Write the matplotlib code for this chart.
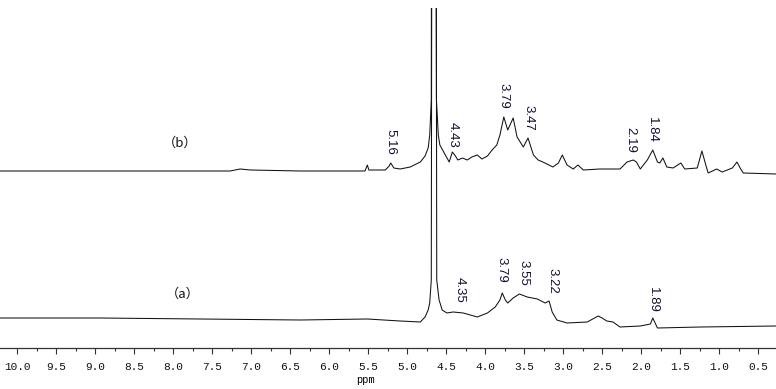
import matplotlib
matplotlib.use("Agg")
import matplotlib.pyplot as plt
import numpy as np
from matplotlib.ticker import MultipleLocator, FormatStrFormatter

# ---- data (ppm, intensity in plot units) ----
ppm_b = [10.22, 8.68, 7.27, 7.14, 7.01, 6.37, 5.60, 5.54, 5.51, 5.49, 5.28, 5.23, 5.21, 5.17,
         5.09, 4.96, 4.83, 4.77, 4.73, 4.71, 4.69, 4.685, 4.635, 4.624, 4.60, 4.58, 4.51, 4.46,
         4.42, 4.38, 4.35, 4.29, 4.23, 4.17, 4.10, 4.04, 3.97, 3.91, 3.85, 3.81, 3.76, 3.71,
         3.64, 3.59, 3.55, 3.51, 3.45, 3.38, 3.32, 3.26, 3.13, 3.06, 3.01, 2.95, 2.87, 2.81,
         2.74, 2.53, 2.27, 2.18, 2.10, 2.06, 2.01, 1.92, 1.85, 1.79, 1.76, 1.72, 1.67, 1.59,
         1.49, 1.44, 1.28, 1.22, 1.17, 1.14, 1.03, 0.96, 0.83, 0.77, 0.73, 0.69, 0.27]
int_b = [177, 177, 177, 179, 178, 177, 177, 177, 183, 178, 178, 182, 185, 180,
         179, 181, 186, 192, 200, 213, 248, 600, 600, 248, 213, 203, 193, 186,
         196, 192, 188, 190, 188, 191, 193, 189, 192, 198, 203, 213, 231, 218,
         230, 211, 206, 201, 210, 193, 188, 186, 181, 185, 193, 183, 179, 183,
         178, 179, 179, 186, 188, 186, 179, 188, 198, 186, 185, 190, 181, 180,
         185, 179, 180, 197, 183, 175, 179, 176, 180, 186, 180, 175, 174]

ppm_a = [10.22, 8.94, 7.65, 6.37, 5.51, 5.09, 4.83, 4.77, 4.73, 4.71, 4.69, 4.68, 4.63,
         4.62, 4.59, 4.55, 4.49, 4.41, 4.28, 4.10, 3.97, 3.87, 3.81, 3.78, 3.74, 3.71,
         3.64, 3.56, 3.46, 3.33, 3.23, 3.18, 3.14, 3.08, 2.95, 2.69, 2.55, 2.50, 2.44,
         2.36, 2.27, 2.01, 1.88, 1.85, 1.79, 1.24, 0.27]
int_a = [30, 30, 29, 28, 29, 27, 26, 31, 38, 45, 68, 600, 600,
         68, 48, 38, 35, 36, 35, 31, 35, 41, 48, 55, 48, 45,
         50, 54, 51, 49, 45, 47, 36, 28, 25, 26, 32, 30, 27,
         26, 21, 22, 24, 30, 20, 21, 22]

labels_b = ["5.16", "4.43", "3.79", "3.47", "2.19", "1.84"]
labels_b_ppm = [5.22, 4.42, 3.77, 3.45, 2.14, 1.86]
labels_b_int = [206, 213, 252, 230, 208, 218]

labels_a = ["4.35", "3.79", "3.55", "3.22", "1.89"]
labels_a_ppm = [4.32, 3.79, 3.51, 3.14, 1.85]
labels_a_int = [58, 78, 75, 67, 48]

tick_values = np.arange(10.0, 0.49, -0.5)

# ---- figure ----
W, H = 776, 389
fig = plt.figure(figsize=(W / 100, H / 100), dpi=100)
ax = fig.add_axes([0, 41 / H, 1, 340 / H])

ax.plot(ppm_b, int_b, color="#111111", lw=0.75)
ax.plot(ppm_a, int_a, color="#111111", lw=0.75)

ax.set_xlim(10.22, 0.27)
ax.set_ylim(0, 340)

for s in ["top", "left", "right"]:
    ax.spines[s].set_visible(False)
ax.spines["bottom"].set_color("#333333")
ax.spines["bottom"].set_linewidth(0.9)
ax.set_yticks([])

ax.set_xticks(tick_values)
ax.xaxis.set_major_formatter(FormatStrFormatter("%.1f"))
ax.xaxis.set_minor_locator(MultipleLocator(0.25))
ax.tick_params(axis="x", which="major", direction="out", length=4, width=0.8,
               color="#333333", pad=6, labelsize=8)
ax.tick_params(axis="x", which="minor", direction="out", length=2.2, width=0.8,
               color="#333333")
for lab in ax.get_xticklabels():
    lab.set_fontfamily("Liberation Mono")
    lab.set_color("#111111")

for t, x, y in zip(labels_b, labels_b_ppm, labels_b_int):
    ax.text(x, y, t, rotation=-90, ha="center", va="center", fontsize=9.5,
            family="Liberation Sans", color="#111133")
for t, x, y in zip(labels_a, labels_a_ppm, labels_a_int):
    ax.text(x, y, t, rotation=-90, ha="center", va="center", fontsize=9.5,
            family="Liberation Sans", color="#111133")

ax.text(7.91, 205, "（b）", ha="center", va="center", fontsize=9.5,
        family=["Noto Sans CJK SC", "DejaVu Sans"], color="#111111")
ax.text(7.88, 54, "（a）", ha="center", va="center", fontsize=9.5,
        family=["Noto Sans CJK SC", "DejaVu Sans"], color="#111111")

fig.text(366 / W, 1 - 380 / H, "ppm", ha="center", va="center", fontsize=7.5,
         family="Liberation Mono")

fig.savefig("out.png", dpi=100)
